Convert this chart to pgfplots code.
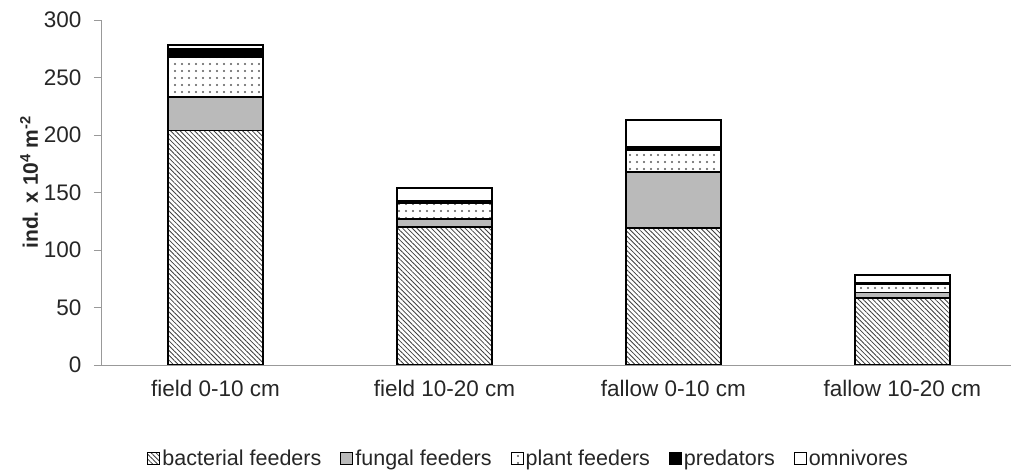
\documentclass[border=0pt]{standalone}
\usepackage{fontspec}
\setmainfont{Liberation Sans}
\usepackage{pgfplots}
\pgfplotsset{compat=1.18}
\usetikzlibrary{patterns.meta}
\begin{document}
\begin{tikzpicture}
\path[use as bounding box] (-101pt,-105pt) rectangle (910pt,365pt);
\begin{axis}[
  scale only axis,
  width=910pt, height=345pt,
  ybar stacked,
  bar width=95pt,
  xmin=-0.5, xmax=3.474,
  ymin=0, ymax=300,
  ytick={0,50,...,300},
  xtick={0,1,2,3},
  xticklabels={field 0-10 cm, field 10-20 cm, fallow 0-10 cm, fallow 10-20 cm},
  major x tick style={draw=none},
  extra x ticks={-0.5,0.5,1.5,2.5},
  extra x tick labels={},
  extra x tick style={major tick length=7pt, tick style={draw=gray!80, line width=0.8pt}},
  axis x line*=bottom,
  axis y line*=left,
  axis line style={draw=gray!80, line width=0.8pt, -},
  tick align=outside,
  major tick length=7pt,
  tick style={draw=gray!80, line width=0.8pt},
  /pgf/number format/assume math mode=true,
  ticklabel style={font=\fontsize{22.5}{26}\selectfont, text=black!85},
  xticklabel style={yshift=-5pt},
  yticklabel style={xshift=-9pt},
  ylabel={\textbf{ind. x 10\textsuperscript{4} m\textsuperscript{-2}}},
  every axis y label/.style={at={(axis description cs:-0.079,0.53)}, rotate=90, anchor=center,
    font=\fontsize{21}{24}\selectfont, text=black!85},
  legend style={draw=none, at={(axis description cs:0.47,-0.27)}, anchor=center,
    font=\fontsize{21.5}{24}\selectfont, text=black!85, legend columns=-1,
    /tikz/every even column/.append style={column sep=17pt}},
  legend image code/.code={\draw[#1, line width=1pt] (0pt,-6pt) rectangle (12pt,6pt);},
  legend cell align=left,
]
\addplot[draw=black, line width=1.6pt, fill=white, postaction={pattern={Lines[angle=-45,distance=3.4pt,line width=0.8pt]}, pattern color=black!75}]
  coordinates {(0,204) (1,120) (2,119) (3,58)};
\addplot[draw=black, line width=1.6pt, fill=black!27]
  coordinates {(0,29) (1,7) (2,49) (3,5)};
\addplot[draw=black, line width=1.6pt, fill=white, postaction={pattern={Dots[distance=7pt,radius=1.1pt]}, pattern color=black!65}]
  coordinates {(0,35) (1,14) (2,19) (3,7)};
\addplot[draw=black, line width=1.6pt, fill=black]
  coordinates {(0,7) (1,2) (2,3) (3,1.5)};
\addplot[draw=black, line width=1.6pt, fill=white]
  coordinates {(0,3) (1,11) (2,23) (3,6.5)};
\legend{bacterial feeders, fungal feeders, plant feeders, predators, omnivores}
\end{axis}
\end{tikzpicture}
\end{document}
